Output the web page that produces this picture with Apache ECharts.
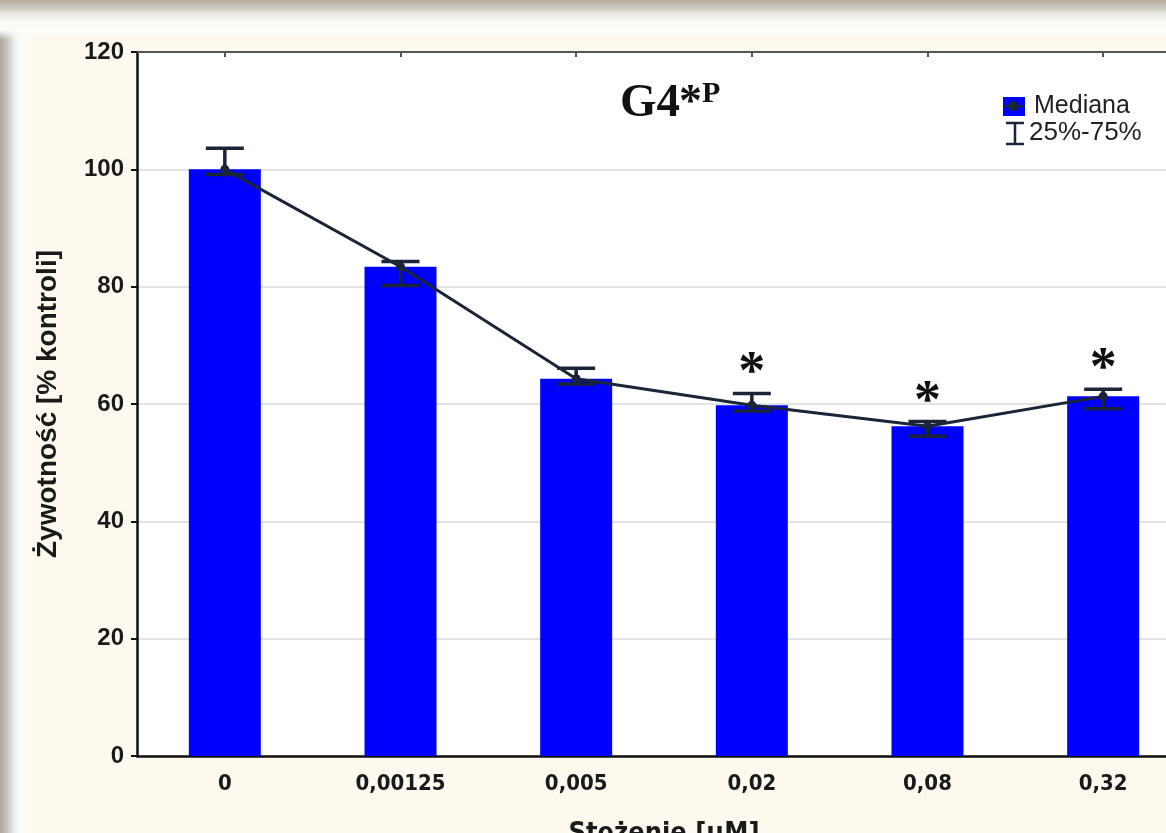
<!DOCTYPE html>
<html lang="pl">
<head>
<meta charset="utf-8">
<title>G4*P – żywotność komórek</title>
<script src="https://cdn.jsdelivr.net/npm/echarts@6/dist/echarts.min.js"></script>
<style>
  html, body { margin: 0; padding: 0; }
  body { width: 1166px; height: 833px; overflow: hidden; background: #fdf9ef; position: relative; }
  .edge-left { position: absolute; left: 0; top: 0; bottom: 0; width: 32px;
    background: linear-gradient(to right, #aba79f 0px, #c7c3bc 7px, #ecebe7 14px, #fbfbf9 20px, #fdfcf8 25px, rgba(253,249,239,0) 32px); }
  .edge-top { position: absolute; left: 0; right: 0; top: 0; height: 40px;
    background: linear-gradient(to bottom, #b3ad9f 0px, #c9c5ba 7px, #e9e8e2 14px, #f9f9f6 22px, #fdfcf9 30px, rgba(253,249,239,0) 40px); }
  #chart { position: absolute; left: 0; top: 0; width: 1210px; height: 833px; }
</style>
</head>
<body>
<div class="edge-left"></div>
<div class="edge-top"></div>
<div id="chart"></div>
<script>
// Stężenia (kategorie osi X)
const categories = ['0', '0,00125', '0,005', '0,02', '0,08', '0,32'];
// Mediana żywotności [% kontroli]
const medians = [100, 83.4, 64.3, 59.8, 56.2, 61.3];
// Kwartyle: 25% i 75%
const q25 = [99.1, 80.2, 63.4, 58.8, 54.5, 59.2];
const q75 = [103.6, 84.3, 66.1, 61.8, 57.0, 62.5];
// Istotność statystyczna względem kontroli
const significant = [false, false, false, true, true, true];
// Oś Y
const yMin = 0, yMax = 120, yStep = 20;

const navy = '#1b2538';
const blue = '#0000ff';

const chart = echarts.init(document.getElementById('chart'), null, { renderer: 'canvas' });

const whiskerData = categories.map((c, i) => [i, q25[i], q75[i]]);
const starData = categories.map((c, i) => [i, q75[i], significant[i] ? 1 : 0]);

const option = {
  backgroundColor: 'transparent',
  animation: false,
  grid: {
    left: 137, top: 52, width: 1054, height: 704,
    outerBoundsMode: 'none',
    containLabel: false,
    show: true, backgroundColor: '#ffffff', borderWidth: 0
  },
  xAxis: [{
    type: 'category',
    data: categories,
    position: 'bottom',
    axisLine: { show: true, lineStyle: { color: '#111', width: 2.5 } },
    axisTick: { show: true, inside: true, alignWithLabel: true, length: 5, lineStyle: { color: '#222', width: 2 } },
    axisLabel: { color: '#1a1a1a', fontFamily: 'DejaVu Sans Condensed', fontWeight: 'bold', fontSize: 22, margin: 17 },
    name: 'Stężenie [µM]',
    nameLocation: 'middle',
    nameGap: 64,
    nameTextStyle: { color: '#1a1a1a', fontFamily: 'DejaVu Sans Condensed', fontWeight: 'bold', fontSize: 27, verticalAlign: 'top', lineHeight: 27 }
  }, {
    type: 'category',
    data: categories,
    position: 'top',
    axisLine: { show: true, lineStyle: { color: '#555', width: 2 } },
    axisTick: { show: true, inside: true, alignWithLabel: true, length: 5, lineStyle: { color: '#555', width: 2 } },
    axisLabel: { show: false }
  }],
  yAxis: {
    type: 'value',
    min: yMin, max: yMax, interval: yStep,
    axisLine: { show: true, lineStyle: { color: '#111', width: 2.5 } },
    axisTick: { show: true, inside: false, length: 6, lineStyle: { color: '#111', width: 2 } },
    axisLabel: { color: '#1a1a1a', fontFamily: 'Liberation Sans', fontWeight: 'bold', fontSize: 24, margin: 13 },
    splitLine: { show: true, lineStyle: { color: '#e4e4e4', width: 2 } },
    name: 'Żywotność [% kontroli]',
    nameLocation: 'middle',
    nameGap: 75,
    nameTextStyle: { color: '#1a1a1a', fontFamily: 'Liberation Sans', fontWeight: 'bold', fontSize: 28 }
  },
  series: [{
    name: 'Mediana',
    type: 'bar',
    data: medians,
    barWidth: 72,
    itemStyle: { color: blue },
    z: 2
  }, {
    name: 'Mediana (linia)',
    type: 'line',
    data: medians,
    symbol: 'circle',
    symbolSize: 9,
    lineStyle: { color: navy, width: 3 },
    itemStyle: { color: navy },
    z: 4
  }, {
    name: '25%-75%',
    type: 'custom',
    data: whiskerData,
    encode: { x: 0, y: [1, 2] },
    z: 5,
    renderItem: function (params, api) {
      const i = api.value(0);
      const lo = api.coord([i, api.value(1)]);
      const hi = api.coord([i, api.value(2)]);
      const half = 19;
      const st = { stroke: navy, lineWidth: 3.5 };
      return {
        type: 'group',
        children: [
          { type: 'line', shape: { x1: hi[0], y1: hi[1], x2: lo[0], y2: lo[1] }, style: st },
          { type: 'line', shape: { x1: hi[0] - half, y1: hi[1], x2: hi[0] + half, y2: hi[1] }, style: st },
          { type: 'line', shape: { x1: lo[0] - half, y1: lo[1], x2: lo[0] + half, y2: lo[1] }, style: st }
        ]
      };
    }
  }, {
    name: 'Istotność',
    type: 'custom',
    data: starData,
    encode: { x: 0, y: 1 },
    z: 6,
    renderItem: function (params, api) {
      if (!api.value(2)) return null;
      const p = api.coord([api.value(0), api.value(1)]);
      return {
        type: 'text',
        x: p[0], y: p[1] + 8,
        style: {
          text: '*', fill: '#111', font: 'bold 54px "Liberation Serif"',
          align: 'center', verticalAlign: 'bottom'
        }
      };
    }
  }],
  graphic: [
    // Tytuł
    { type: 'text', x: 620, y: 104,
      style: { text: 'G4', fill: '#111', font: 'bold 47px "Liberation Serif"', verticalAlign: 'middle' } },
    { type: 'text', x: 679, y: 104,
      style: { text: '*', fill: '#111', font: 'bold 46px "Liberation Serif"', verticalAlign: 'middle' } },
    { type: 'text', x: 702, y: 94,
      style: { text: 'P', fill: '#111', font: 'bold 30px "Liberation Serif"', verticalAlign: 'middle' } },
    // Legenda
    { type: 'rect', shape: { x: 1003, y: 97, width: 22, height: 19 }, style: { fill: blue } },
    { type: 'circle', shape: { cx: 1013, cy: 106, r: 5 }, style: { fill: navy } },
    { type: 'line', shape: { x1: 1003, y1: 106, x2: 1025, y2: 106 }, style: { stroke: navy, lineWidth: 2 } },
    { type: 'text', x: 1034, y: 106, style: { text: 'Mediana', fill: '#222', font: '25px "Liberation Sans"', verticalAlign: 'middle' } },
    { type: 'line', shape: { x1: 1015, y1: 123, x2: 1015, y2: 144 }, style: { stroke: navy, lineWidth: 2.5 } },
    { type: 'line', shape: { x1: 1006, y1: 123, x2: 1024, y2: 123 }, style: { stroke: navy, lineWidth: 2.5 } },
    { type: 'line', shape: { x1: 1006, y1: 144, x2: 1024, y2: 144 }, style: { stroke: navy, lineWidth: 2.5 } },
    { type: 'text', x: 1029, y: 133, style: { text: '25%-75%', fill: '#222', font: '26px "Liberation Sans"', verticalAlign: 'middle' } }
  ]
};

chart.setOption(option);
</script>
</body>
</html>
